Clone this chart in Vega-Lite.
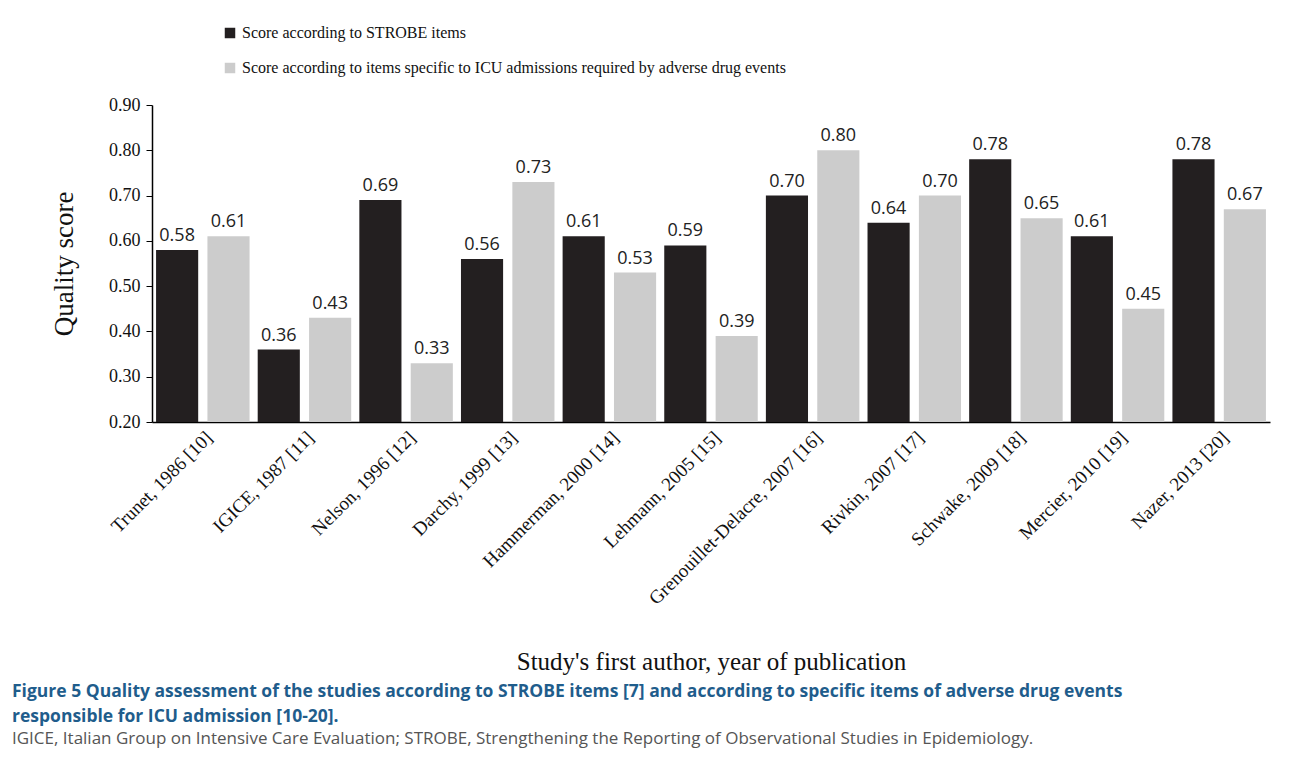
{
"$schema":"https://vega.github.io/schema/vega-lite/v6.json",
"width":1118,"height":317,
"autosize":{"type":"none"},
"padding":{"left":152,"top":105,"right":22,"bottom":341},
"background":"white",
"config":{"view":{"stroke":null},"font":"Liberation Serif"},
"title":{"text":["Figure 5 Quality assessment of the studies according to STROBE items [7] and according to specific items of adverse drug events","responsible for ICU admission [10-20]."],
"subtitle":["IGICE, Italian Group on Intensive Care Evaluation; STROBE, Strengthening the Reporting of Observational Studies in Epidemiology."],
"orient":"bottom","anchor":"start","frame":"group","align":"left","offset":9,"dx":-140,"font":"Open Sans","fontSize":17.5,"fontWeight":"bold","color":"#1f5d8c","lineHeight":25,"limit":0,
"subtitleFont":"Open Sans","subtitleFontSize":17,"subtitleColor":"#555555","subtitlePadding":5,"subtitleLineHeight":24},
"data":{"values":[
{"study":"Trunet, 1986 [10]","series":"Score according to STROBE items","v":0.58},
{"study":"Trunet, 1986 [10]","series":"Score according to items specific to ICU admissions required by adverse drug events","v":0.61},
{"study":"IGICE, 1987 [11]","series":"Score according to STROBE items","v":0.36},
{"study":"IGICE, 1987 [11]","series":"Score according to items specific to ICU admissions required by adverse drug events","v":0.43},
{"study":"Nelson, 1996 [12]","series":"Score according to STROBE items","v":0.69},
{"study":"Nelson, 1996 [12]","series":"Score according to items specific to ICU admissions required by adverse drug events","v":0.33},
{"study":"Darchy, 1999 [13]","series":"Score according to STROBE items","v":0.56},
{"study":"Darchy, 1999 [13]","series":"Score according to items specific to ICU admissions required by adverse drug events","v":0.73},
{"study":"Hammerman, 2000 [14]","series":"Score according to STROBE items","v":0.61},
{"study":"Hammerman, 2000 [14]","series":"Score according to items specific to ICU admissions required by adverse drug events","v":0.53},
{"study":"Lehmann, 2005 [15]","series":"Score according to STROBE items","v":0.59},
{"study":"Lehmann, 2005 [15]","series":"Score according to items specific to ICU admissions required by adverse drug events","v":0.39},
{"study":"Grenouillet-Delacre, 2007 [16]","series":"Score according to STROBE items","v":0.70},
{"study":"Grenouillet-Delacre, 2007 [16]","series":"Score according to items specific to ICU admissions required by adverse drug events","v":0.80},
{"study":"Rivkin, 2007 [17]","series":"Score according to STROBE items","v":0.64},
{"study":"Rivkin, 2007 [17]","series":"Score according to items specific to ICU admissions required by adverse drug events","v":0.70},
{"study":"Schwake, 2009 [18]","series":"Score according to STROBE items","v":0.78},
{"study":"Schwake, 2009 [18]","series":"Score according to items specific to ICU admissions required by adverse drug events","v":0.65},
{"study":"Mercier, 2010 [19]","series":"Score according to STROBE items","v":0.61},
{"study":"Mercier, 2010 [19]","series":"Score according to items specific to ICU admissions required by adverse drug events","v":0.45},
{"study":"Nazer, 2013 [20]","series":"Score according to STROBE items","v":0.78},
{"study":"Nazer, 2013 [20]","series":"Score according to items specific to ICU admissions required by adverse drug events","v":0.67}
]},
"encoding":{
"x":{"field":"study","type":"nominal","sort":null,"scale":{"paddingInner":0.08,"paddingOuter":0.04},
"axis":{"title":"Study's first author, year of publication","titleFont":"Liberation Serif","titleFontSize":25,"titleFontWeight":"normal","titleColor":"#111","titlePadding":41,
"labelAngle":-45,"labelFont":"Liberation Serif","labelFontSize":19,"labelColor":"#111","labelLimit":0,"ticks":false,"domainColor":"#000","domainWidth":1.5,"labelPadding":6}},
"xOffset":{"field":"series","type":"nominal","sort":null,"scale":{"paddingInner":0.18}},
"y":{"field":"v","type":"quantitative","scale":{"domain":[0.2,0.9],"zero":false},
"axis":{"title":"Quality score","titleFont":"Liberation Serif","titleFontSize":27,"titleFontWeight":"normal","titleColor":"#111","titlePadding":30,
"values":[0.2,0.3,0.4,0.5,0.6,0.7,0.8,0.9],"format":".2f","grid":false,"labelFont":"Liberation Serif","labelFontSize":18,"labelColor":"#111","domainColor":"#000","domainWidth":1.5,"tickColor":"#000","tickSize":6,"labelPadding":6}}
},
"layer":[
{"mark":{"type":"bar"},
"encoding":{"y2":{"datum":0.2},"color":{"field":"series","type":"nominal","sort":null,
"scale":{"range":["#231f20","#cccccc"]},
"legend":{"title":null,"orient":"none","legendX":70,"legendY":-80,"symbolType":"square","symbolSize":110,"symbolStrokeWidth":0,"labelFont":"Liberation Serif","labelFontSize":16,"labelColor":"#111","labelLimit":0,"rowPadding":19,"direction":"vertical"}}}},
{"mark":{"type":"text","dy":-14,"font":"Open Sans","fontSize":18,"color":"#222"},
"encoding":{"text":{"field":"v","type":"quantitative","format":".2f"}}}
]
}
